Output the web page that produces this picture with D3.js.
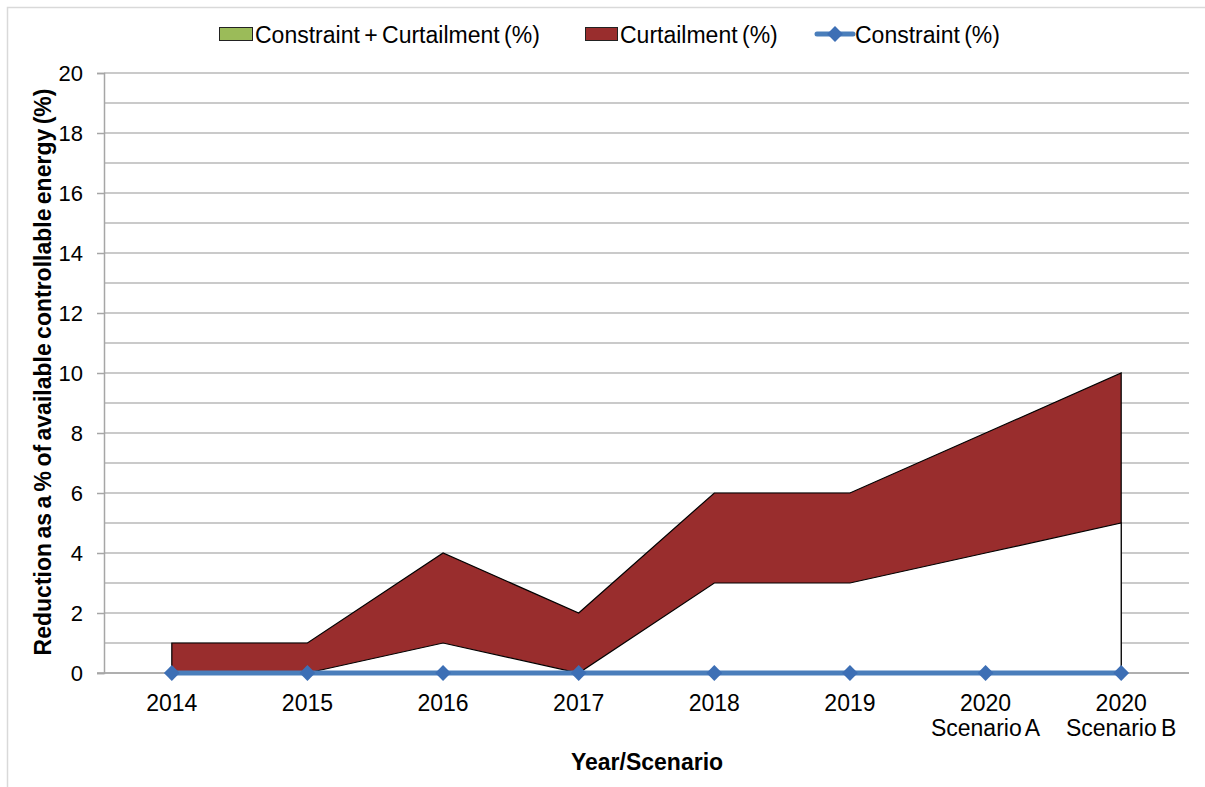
<!DOCTYPE html>
<html>
<head>
<meta charset="utf-8">
<title>Reduction as a % of available controllable energy</title>
<script src="https://d3js.org/d3.v7.min.js"></script>
<style>
  body { margin: 0; background: #fff; }
  text { font-family: Arial, "Liberation Sans", sans-serif; fill: #000; }
</style>
</head>
<body>
<div id="chart"></div>
<script>
// data
var categories = ["2014", "2015", "2016", "2017", "2018", "2019", "2020\nScenario A", "2020\nScenario B"];
var curtailmentUpper = [1, 1, 4, 2, 6, 6, 8, 10];
var curtailmentLower = [0, 0, 1, 0, 3, 3, 4, 5];
var constraint = [0, 0, 0, 0, 0, 0, 0, 0];
var yTicks = [0, 2, 4, 6, 8, 10, 12, 14, 16, 18, 20];
var yGrid = d3.range(0, 21, 1);
var legendItems = ["Constraint + Curtailment (%)", "Curtailment (%)", "Constraint (%)"];

var W = 1205, H = 787;
var margin = { top: 73, right: 16, bottom: 114, left: 104 };

var svg = d3.select("#chart").append("svg")
    .attr("width", W)
    .attr("height", H);

// outer chart border
svg.append("rect")
    .attr("x", 7.5).attr("y", 7.5)
    .attr("width", 1220).attr("height", 820)
    .attr("fill", "none")
    .attr("stroke", "#d9d9d9")
    .attr("stroke-width", 1.5);

var g = svg.append("g")
    .attr("transform", "translate(" + margin.left + "," + margin.top + ")");

var x = d3.scaleBand()
    .domain(categories)
    .range([0, 1085])
    .paddingInner(0).paddingOuter(0);

var y = d3.scaleLinear()
    .domain([0, 20])
    .range([600, 0]);

function cx(i) { return x(categories[i]) + x.bandwidth() / 2; }

// gridlines
g.append("g").selectAll("line")
    .data(yGrid)
    .enter().append("line")
    .attr("x1", 0).attr("x2", 1085)
    .attr("y1", function(d) { return y(d); })
    .attr("y2", function(d) { return y(d); })
    .attr("stroke", "#b8b8b8")
    .attr("stroke-width", 1.5);

// y axis
var yAxis = g.append("g")
    .call(d3.axisLeft(y).tickValues(yTicks).tickSize(7).tickPadding(14));
yAxis.select(".domain").attr("stroke", "#a6a6a6").attr("stroke-width", 1.5);
yAxis.selectAll(".tick line").attr("stroke", "#a6a6a6").attr("stroke-width", 1.5);
yAxis.selectAll(".tick text")
    .attr("font-size", 22)
    .attr("font-family", "Arial, 'Liberation Sans', sans-serif")
    .attr("fill", "#000");

// curtailment band (red), then the white area below it
var idx = d3.range(categories.length);
var upperArea = d3.area()
    .x(function(i) { return cx(i); })
    .y0(function(i) { return y(0); })
    .y1(function(i) { return y(curtailmentUpper[i]); });
var lowerArea = d3.area()
    .x(function(i) { return cx(i); })
    .y0(function(i) { return y(0); })
    .y1(function(i) { return y(curtailmentLower[i]); });

g.append("path")
    .datum(idx)
    .attr("d", upperArea)
    .attr("fill", "#992d2d")
    .attr("stroke", "#000")
    .attr("stroke-width", 1.2);

g.append("path")
    .datum(idx)
    .attr("d", lowerArea)
    .attr("fill", "#fff")
    .attr("stroke", "#000")
    .attr("stroke-width", 1.2);

// x axis line
g.append("line")
    .attr("x1", -7).attr("x2", 1085)
    .attr("y1", y(0)).attr("y2", y(0))
    .attr("stroke", "#a6a6a6")
    .attr("stroke-width", 1.5);

// x labels
var xl = g.append("g").selectAll("text")
    .data(categories)
    .enter().append("text")
    .attr("text-anchor", "middle")
    .attr("font-size", 23)
    .attr("word-spacing", -2)
    .attr("transform", function(d) { return "translate(" + (x(d) + x.bandwidth() / 2) + "," + (y(0) + 38) + ")"; });
xl.selectAll("tspan")
    .data(function(d) { return d.split("\n"); })
    .enter().append("tspan")
    .attr("x", 0)
    .attr("dy", function(d, i) { return i === 0 ? 0 : 25; })
    .text(function(d) { return d; });

// constraint line with diamonds
var line = d3.line()
    .x(function(i) { return cx(i); })
    .y(function(i) { return y(constraint[i]); });
g.append("path")
    .datum(idx)
    .attr("d", line)
    .attr("fill", "none")
    .attr("stroke", "#4a7ebb")
    .attr("stroke-width", 5);

var diamond = d3.symbol().type(d3.symbolSquare).size(125);
g.append("g").selectAll("path")
    .data(idx)
    .enter().append("path")
    .attr("d", diamond)
    .attr("transform", function(i) { return "translate(" + cx(i) + "," + y(constraint[i]) + ") rotate(45)"; })
    .attr("fill", "#3d6fb5");

// axis titles
svg.append("text")
    .attr("x", 647).attr("y", 770)
    .attr("text-anchor", "middle")
    .attr("font-size", 23)
    .attr("font-weight", "bold")
    .text("Year/Scenario");

svg.append("text")
    .attr("transform", "translate(51,372) rotate(-90)")
    .attr("text-anchor", "middle")
    .attr("font-size", 23)
    .attr("font-weight", "bold")
    .attr("word-spacing", -2)
    .text("Reduction as a % of available controllable energy (%)");

// legend
var legend = svg.append("g")
    .attr("font-size", 23);
legend.append("rect")
    .attr("x", 219.5).attr("y", 27.5).attr("width", 33).attr("height", 13)
    .attr("fill", "#9bbb59").attr("stroke", "#222").attr("stroke-width", 1);
legend.append("text")
    .attr("x", 255).attr("y", 43)
    .attr("word-spacing", -2)
    .text(legendItems[0]);

legend.append("rect")
    .attr("x", 585.5).attr("y", 27.5).attr("width", 32).attr("height", 13)
    .attr("fill", "#992d2d").attr("stroke", "#222").attr("stroke-width", 1);
legend.append("text")
    .attr("x", 620).attr("y", 43)
    .attr("word-spacing", -2)
    .text(legendItems[1]);

legend.append("line")
    .attr("x1", 817).attr("x2", 853).attr("y1", 34).attr("y2", 34)
    .attr("stroke", "#4a7ebb").attr("stroke-width", 5).attr("stroke-linecap", "round");
legend.append("path")
    .attr("d", diamond)
    .attr("transform", "translate(835,34) rotate(45)")
    .attr("fill", "#3d6fb5");
legend.append("text")
    .attr("x", 855).attr("y", 43)
    .attr("word-spacing", -2)
    .text(legendItems[2]);
</script>
</body>
</html>
